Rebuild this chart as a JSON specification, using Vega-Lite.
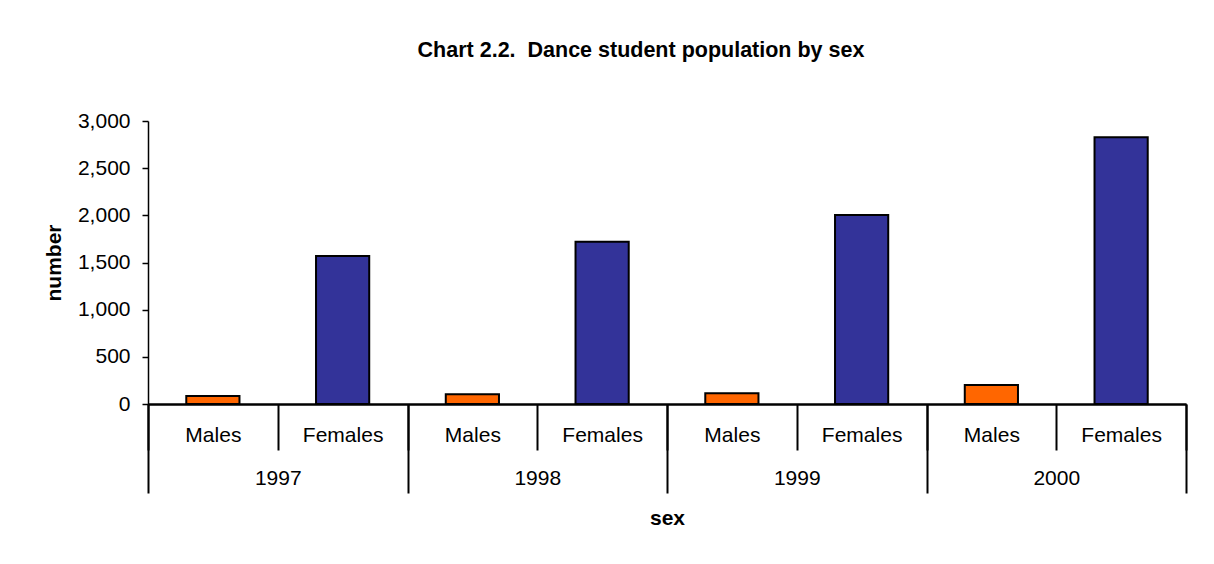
{
  "$schema": "https://vega.github.io/schema/vega-lite/v6.json",
  "width": 1038,
  "height": 283,
  "autosize": {"type": "none"},
  "padding": {"left": 148, "top": 121, "right": 28, "bottom": 160},
  "background": "#ffffff",
  "title": {
    "text": "Chart 2.2.\u00a0 Dance student population by sex",
    "anchor": "middle",
    "frame": "group",
    "font": "Liberation Sans",
    "fontSize": 21.5,
    "fontWeight": "bold",
    "color": "#000000",
    "baseline": "alphabetic",
    "offset": 32,
    "dx": -26
  },
  "data": {
    "values": [
      {"year": "1997", "sex": "Males", "bar": "1997 Males", "number": 85},
      {"year": "1997", "sex": "Females", "bar": "1997 Females", "number": 1570},
      {"year": "1998", "sex": "Males", "bar": "1998 Males", "number": 103},
      {"year": "1998", "sex": "Females", "bar": "1998 Females", "number": 1720},
      {"year": "1999", "sex": "Males", "bar": "1999 Males", "number": 113},
      {"year": "1999", "sex": "Females", "bar": "1999 Females", "number": 2004},
      {"year": "2000", "sex": "Males", "bar": "2000 Males", "number": 201},
      {"year": "2000", "sex": "Females", "bar": "2000 Females", "number": 2827}
    ]
  },
  "layer": [
    {
      "mark": {"type": "bar", "width": {"band": 0.41}, "stroke": "#000000", "strokeWidth": 2},
      "encoding": {
        "x": {
          "field": "bar",
          "type": "nominal",
          "sort": null,
          "scale": {"type": "band", "paddingInner": 0, "paddingOuter": 0},
          "axis": {
            "orient": "bottom",
            "title": null,
            "labelExpr": "split(datum.label, ' ')[1]",
            "labelAngle": 0,
            "labelOverlap": false,
            "labelLimit": 300,
            "tickBand": "extent",
            "tickSize": 46,
            "tickWidth": 2,
            "tickColor": "#000000",
            "domainColor": "#000000",
            "domainWidth": 2,
            "labelPadding": -26,
            "labelFont": "Liberation Sans",
            "labelFontSize": 21,
            "labelColor": "#000000"
          }
        },
        "y": {
          "field": "number",
          "type": "quantitative",
          "scale": {"domain": [0, 3000], "nice": false},
          "axis": {
            "title": "number",
            "values": [0, 500, 1000, 1500, 2000, 2500, 3000],
            "format": ",.0f",
            "grid": false,
            "tickSize": 6,
            "tickWidth": 1.5,
            "tickColor": "#000000",
            "domainColor": "#000000",
            "domainWidth": 1.5,
            "labelPadding": 12,
            "labelFont": "Liberation Sans",
            "labelFontSize": 21,
            "labelColor": "#000000",
            "titleFont": "Liberation Sans",
            "titleFontSize": 21,
            "titleFontWeight": "bold",
            "titleColor": "#000000",
            "titlePadding": 13
          }
        },
        "color": {
          "field": "sex",
          "type": "nominal",
          "scale": {"domain": ["Males", "Females"], "range": ["#FF6600", "#333399"]},
          "legend": null
        }
      }
    },
    {
      "mark": {"type": "bar", "opacity": 0},
      "encoding": {
        "x": {
          "field": "year",
          "type": "nominal",
          "sort": null,
          "scale": {"type": "band", "paddingInner": 0, "paddingOuter": 0},
          "axis": {
            "orient": "bottom",
            "title": "sex",
            "labelAngle": 0,
            "labelOverlap": false,
            "tickBand": "extent",
            "tickSize": 89,
            "tickWidth": 2,
            "tickColor": "#000000",
            "domainColor": "#000000",
            "domainWidth": 2,
            "labelPadding": -26,
            "labelFont": "Liberation Sans",
            "labelFontSize": 21,
            "labelColor": "#000000",
            "titleFont": "Liberation Sans",
            "titleFontSize": 21,
            "titleFontWeight": "bold",
            "titleColor": "#000000",
            "titlePadding": 13
          }
        }
      }
    }
  ],
  "resolve": {"scale": {"x": "independent"}, "axis": {"x": "independent"}},
  "config": {
    "view": {"stroke": null},
    "font": "Liberation Sans"
  }
}
